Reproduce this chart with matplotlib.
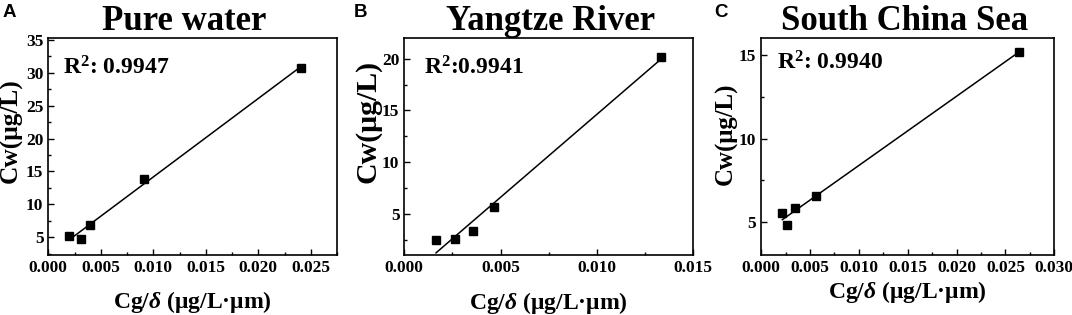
import matplotlib
matplotlib.use('Agg')
import matplotlib.pyplot as plt
import numpy as np
from matplotlib.ticker import MultipleLocator

plt.rcParams['font.family'] = 'Liberation Serif'
plt.rcParams['font.weight'] = 'bold'
plt.rcParams['axes.labelweight'] = 'bold'
plt.rcParams['axes.titleweight'] = 'bold'
plt.rcParams['mathtext.fontset'] = 'custom'
plt.rcParams['mathtext.rm'] = 'Liberation Serif:bold'
plt.rcParams['mathtext.bf'] = 'Liberation Serif:bold'
plt.rcParams['mathtext.it'] = 'Liberation Serif:italic:bold'
plt.rcParams['mathtext.bfit'] = 'Liberation Serif:italic:bold'

# Данные
titles = ['Pure water', 'Yangtze River', 'South China Sea']
letters = ['A', 'B', 'C']
r2_labels = [r'R$^{\mathbf{2}}$: 0.9947', r'R$^{\mathbf{2}}$:0.9941', r'R$^{\mathbf{2}}$: 0.9940']

x_pure = [0.0020, 0.00313, 0.00396, 0.00908, 0.0241]
y_pure = [5.2, 4.8, 6.9, 13.9, 30.8]

x_yangtze = [0.00165, 0.00263, 0.00355, 0.00465, 0.01331]
y_yangtze = [2.5, 2.6, 3.4, 5.7, 20.2]

x_scs = [0.00217, 0.00265, 0.00347, 0.00565, 0.02637]
y_scs = [5.5, 4.78, 5.83, 6.57, 15.2]

xs = [x_pure, x_yangtze, x_scs]
ys = [y_pure, y_yangtze, y_scs]

fig = plt.figure(figsize=(10.72, 3.15), dpi=100)

# Положение осей в долях фигуры
lefts = [0.0450, 0.3771, 0.7100]
widths = [0.2695, 0.2697, 0.2735]
bottom, height = 0.1905, 0.689

xlims = [(0, 0.0275), (0, 0.015), (0, 0.030)]
ylims = [(2.3, 35.3), (1.05, 22.0), (3.0, 16.05)]
xmaj = [0.005, 0.005, 0.005]
ymaj = [5, 5, 5]
ylabel_pos = [(-0.088, 0.571), (-0.078, 0.617), (-0.08, 0.56)]
ylabel_size = [18.3, 21.5, 17.9]
xlabel_pad = [9.5, 10.5, 2.0]
title_x = [0.469, 0.505, 0.49]
r2_pos = [(0.05, 0.83), (0.07, 0.83), (0.055, 0.855)]
letter_x = [3, 354, 714]

for i in range(3):
    ax = fig.add_axes([lefts[i], bottom, widths[i], height])
    x = np.array(xs[i])
    y = np.array(ys[i])
    k, b = np.polyfit(x, y, 1)
    xf = np.array([x.min(), x.max()])
    ax.plot(xf, k * xf + b, color='black', linewidth=1.1)
    ax.plot(x, y, linestyle='none', marker='s', markersize=6, color='black')

    ax.set_xlim(xlims[i])
    ax.set_ylim(ylims[i])
    ax.xaxis.set_major_locator(MultipleLocator(xmaj[i]))
    ax.xaxis.set_minor_locator(MultipleLocator(xmaj[i] / 2))
    ax.yaxis.set_major_locator(MultipleLocator(ymaj[i]))
    ax.yaxis.set_minor_locator(MultipleLocator(ymaj[i] / 2))
    ax.xaxis.set_major_formatter(plt.FormatStrFormatter('%.3f'))
    ax.tick_params(which='both', direction='in', width=1.0, labelsize=12.5)
    ax.tick_params(which='major', length=4)
    ax.tick_params(which='minor', length=2.5)
    for s in ax.spines.values():
        s.set_linewidth(1.2)

    ax.set_xlabel(r'Cg/$\mathbfit{\delta}$ (μg/L·μm)', fontsize=17, labelpad=xlabel_pad[i])
    ax.set_ylabel('Cw(μg/L)', fontsize=ylabel_size[i])
    ax.yaxis.set_label_coords(*ylabel_pos[i])
    ax.set_title(titles[i], fontsize=25, x=title_x[i], pad=6)
    ax.text(r2_pos[i][0], r2_pos[i][1], r2_labels[i], transform=ax.transAxes,
            fontsize=17)
    fig.text(letter_x[i] / 1072, 1 - 4 / 315, letters[i], family='Liberation Sans',
             fontsize=13.5, fontweight='bold', va='top', ha='left')

fig.savefig('out.png', dpi=100)
